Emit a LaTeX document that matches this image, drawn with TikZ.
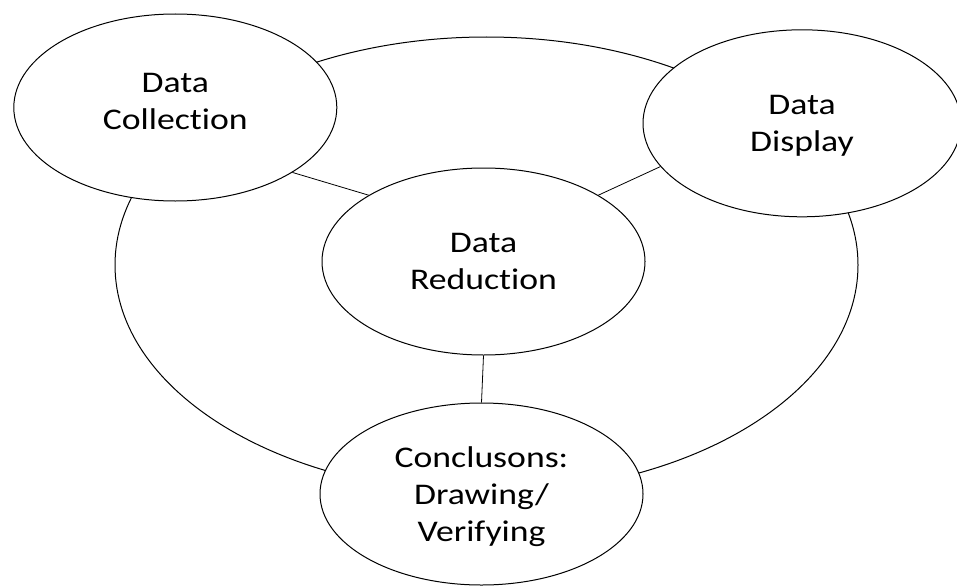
\documentclass[tikz,border=0pt]{standalone}
\usepackage{fontspec}
\setmainfont{Carlito}[FakeStretch=1.19, Ligatures=NoCommon]
\usetikzlibrary{shapes.geometric}
\begin{document}
\begin{tikzpicture}[x=1pt,y=-1pt,
  bub/.style={ellipse, draw=black, line width=1pt, fill=white, inner sep=0pt,
    minimum width=323pt, minimum height=187pt, align=center, text depth=0pt,
    font={\fontsize{30pt}{36.6pt}\selectfont}},
  big/.style={ellipse, draw=black, line width=1pt, inner sep=0pt,
    minimum width=743pt, minimum height=456pt},
  link/.style={draw=black, line width=0.8pt}]
\useasboundingbox (0,0) rectangle (957,586);
\begin{scope}
\clip (0,0) rectangle (957,586);
\node[big] (ring) at (486.5,265) {};
\node[bub, text depth=12pt] (coll) at (175.3,107.5) {Data\\Collection};
\node[bub, minimum width=318pt] (disp) at (802,123.3) {Data\\Display};
\node[bub] (red) at (483.5,261.5) {Data\\Reduction};
\node[bub, minimum height=182pt] (conc) at (481.5,494) {Conclusons:\\Drawing/\\Verifying};
\draw[link] (coll.-29.8) -- (red.150.1);
\draw[link] (disp.197.7) -- (red.30.3);
\draw[link] (red.270) -- (conc.90);
\end{scope}
\end{tikzpicture}
\end{document}
